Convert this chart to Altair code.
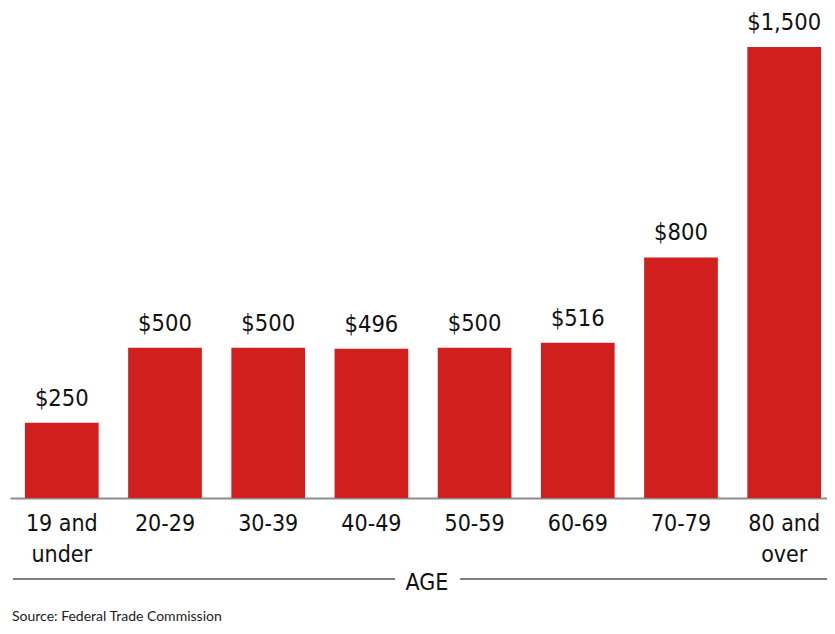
import altair as alt
import pandas as pd

# ---- data ----
ages = ["19 and under", "20-29", "30-39", "40-49", "50-59", "60-69", "70-79", "80 and over"]
losses = [250, 500, 500, 496, 500, 516, 800, 1500]
value_labels = ["$250", "$500", "$500", "$496", "$500", "$516", "$800", "$1,500"]
axis_title = "AGE"
source_note = "Source: Federal Trade Commission"

df = pd.DataFrame({"age": ages, "loss": losses, "label": value_labels})
one = pd.DataFrame({"k": [0]})

FONT = "DejaVu Sans Condensed, Liberation Sans Narrow, sans-serif"
RED = "#d11f1e"

TOP = 39
W, H = 817, 451

x_enc = alt.X(
    "age:N",
    sort=ages,
    scale=alt.Scale(range=[0, 826], paddingInner=0.286, paddingOuter=0.145),
    axis=alt.Axis(
        title=None,
        labelAngle=0,
        ticks=False,
        domainColor="#8c8c8c",
        domainWidth=2,
        labelFont=FONT,
        labelFontSize=23,
        labelColor="#111111",
        labelBaseline="alphabetic",
        labelPadding=32,
        labelLineHeight=31,
        labelOverlap=False,
        labelExpr="datum.label == '19 and under' ? ['19 and', 'under'] : "
                  "datum.label == '80 and over' ? ['80 and', 'over'] : datum.label",
    ),
)
y_enc = alt.Y("loss:Q", scale=alt.Scale(domain=[0, 1500], nice=False), axis=None)

bars = alt.Chart(df).mark_bar(color=RED).encode(x=x_enc, y=y_enc)

texts = alt.Chart(df).mark_text(
    font=FONT, fontSize=23.5, color="#111111", baseline="alphabetic", dy=-17
).encode(x=alt.X("age:N", sort=ages), y="loss:Q", text="label:N")

rule_left = alt.Chart(one).mark_rule(color="#555555", strokeWidth=1.5).encode(
    x=alt.value(3), x2=alt.value(385), y=alt.value(H + 81)
)
rule_right = alt.Chart(one).mark_rule(color="#555555", strokeWidth=1.5).encode(
    x=alt.value(450), x2=alt.value(830), y=alt.value(H + 81)
)
age_text = alt.Chart(one).mark_text(
    font=FONT, fontSize=23, color="#111111", baseline="alphabetic", align="center"
).encode(x=alt.value(417), y=alt.value(H + 92), text=alt.value(axis_title))

src_text = alt.Chart(one).mark_text(
    font="Lato, Open Sans, sans-serif", fontSize=14, color="#222222",
    baseline="alphabetic", align="left"
).encode(x=alt.value(2), y=alt.value(H + 123), text=alt.value(source_note))

chart = (
    alt.layer(bars, texts, rule_left, rule_right, age_text, src_text)
    .properties(
        width=W,
        height=H,
        autosize=alt.AutoSizeParams(type="none"),
        padding={"left": 2, "top": TOP, "right": 0, "bottom": 618 - TOP - H},
        background="white",
    )
    .configure_view(stroke=None)
)

chart.save("out.html", embed_options={"renderer": "svg", "actions": False})
